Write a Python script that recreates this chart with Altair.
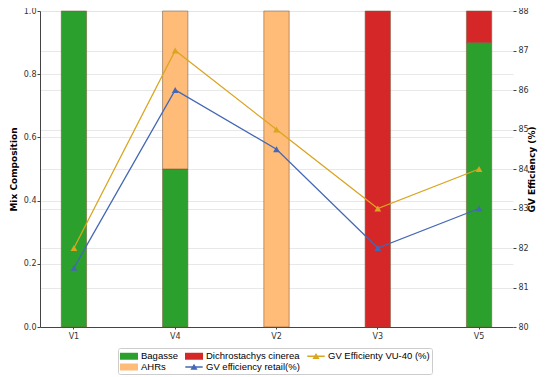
import altair as alt
import pandas as pd

categories = ["V1", "V4", "V2", "V3", "V5"]
bagasse = [1.0, 0.5, 0.0, 0.0, 0.9]
ahrs = [0.0, 0.5, 1.0, 0.0, 0.0]
dichrostachys = [0.0, 0.0, 0.0, 1.0, 0.1]
gv_retail = [81.5, 86.0, 84.5, 82.0, 83.0]
gv_vu40 = [82.0, 87.0, 85.0, 83.0, 84.0]

# legend fills column by column
legend_order = ["Bagasse", "AHRs", "Dichrostachys cinerea",
                "GV efficiency retail(%)", "GV Efficienty VU-40 (%)"]
legend_colors = ["#2ca02c", "#ffbb78", "#d62728", "#4468b4", "#daa520"]

RECT = "M-1.5,-0.58H1.5V0.58H-1.5Z"
LINE_TRI = "M-1.45,-0.11H1.45V0.11H-1.45Z M0,-0.55L0.6,0.45H-0.6Z"
legend_shapes = [RECT, RECT, RECT, LINE_TRI, LINE_TRI]

rows = []
for name, vals, order in [("Bagasse", bagasse, 0), ("AHRs", ahrs, 1),
                          ("Dichrostachys cinerea", dichrostachys, 2)]:
    for c, v in zip(categories, vals):
        if v > 0:
            rows.append({"cat": c, "series": name, "value": v, "ord": order})
bars_df = pd.DataFrame(rows)

lrows = []
for name, vals in [("GV efficiency retail(%)", gv_retail), ("GV Efficienty VU-40 (%)", gv_vu40)]:
    for c, v in zip(categories, vals):
        lrows.append({"cat": c, "series": name, "value": v})
lines_df = pd.DataFrame(lrows)

legend_df = pd.DataFrame({"series": legend_order})

FONT = "DejaVu Sans"
TICK_FS = 8
TITLE_FS = 9

legend = alt.Legend(
    title=None, orient="none", legendX=78, legendY=337, columns=3,
    fillColor="white", strokeColor="#cccccc", padding=2, cornerRadius=2,
    labelFont="Liberation Sans", labelFontSize=9.5, labelColor="#000000",
    symbolSize=144, symbolOffset=3, columnPadding=7, rowPadding=0,
    symbolStrokeWidth=0, symbolOpacity=1, labelOffset=6,
)

color_scale = alt.Scale(domain=legend_order, range=legend_colors)
color = alt.Color("series:N", scale=color_scale, legend=legend)

x = alt.X("cat:N", sort=categories,
          scale=alt.Scale(paddingInner=0.75, paddingOuter=0.21),
          axis=alt.Axis(title=None, labelAngle=0, labelFont=FONT, labelFontSize=TICK_FS,
                        labelColor="#333333", domainColor="#444444", tickColor="#444444",
                        tickSize=2, labelPadding=3, grid=False))

bars = alt.Chart(bars_df).mark_bar(stroke="#7a5a3a", strokeOpacity=0.55, strokeWidth=1).encode(
    x=x,
    y=alt.Y("value:Q", stack="zero",
            scale=alt.Scale(domain=[0, 1], nice=False),
            axis=alt.Axis(title="Mix Composition", values=[0, 0.2, 0.4, 0.6, 0.8, 1.0],
                          format=".1f", grid=True, gridColor="#e2e2e2", gridWidth=0.8,
                          domainColor="#444444", tickColor="#444444", tickSize=3,
                          labelPadding=1, labelFont=FONT, labelFontSize=TICK_FS,
                          labelColor="#333333", titleFont=FONT, titleFontSize=TITLE_FS,
                          titleFontWeight="bold", titleColor="#000000", titlePadding=5)),
    color=color,
    order=alt.Order("ord:Q"),
)

lines = alt.Chart(lines_df).mark_line(
    strokeWidth=1.3,
    point=alt.OverlayMarkDef(shape="triangle-up", filled=True, size=45, opacity=1),
).encode(
    x=x,
    y=alt.Y("value:Q",
            scale=alt.Scale(domain=[80, 88], nice=False),
            axis=alt.Axis(title="GV Efficiency (%)", orient="right",
                          values=list(range(80, 89)), grid=True, gridColor="#e2e2e2",
                          gridWidth=0.8, domain=False, tickColor="#444444", tickSize=3,
                          labelPadding=2, labelFont=FONT, labelFontSize=TICK_FS,
                          labelColor="#333333", titleFont=FONT, titleFontSize=TITLE_FS,
                          titleFontWeight="bold", titleColor="#000000", titleAngle=270,
                          titlePadding=8)),
    color=color,
)

# legend-only layer: carries the symbol shapes for the combined legend, draws nothing
legend_layer = alt.Chart(legend_df).mark_point(filled=True, opacity=1).encode(
    color=color,
    shape=alt.Shape("series:N", scale=alt.Scale(domain=legend_order, range=legend_shapes),
                    legend=legend),
).transform_filter("false")

chart = alt.layer(bars, lines, legend_layer).resolve_scale(y="independent").properties(
    width=473, height=316,
    autosize=alt.AutoSizeParams(type="none"),
    padding={"left": 32, "top": 3, "right": 29, "bottom": 50},
).configure_view(stroke=None)

chart.save("out.html", embed_options={"renderer": "svg", "actions": False})
